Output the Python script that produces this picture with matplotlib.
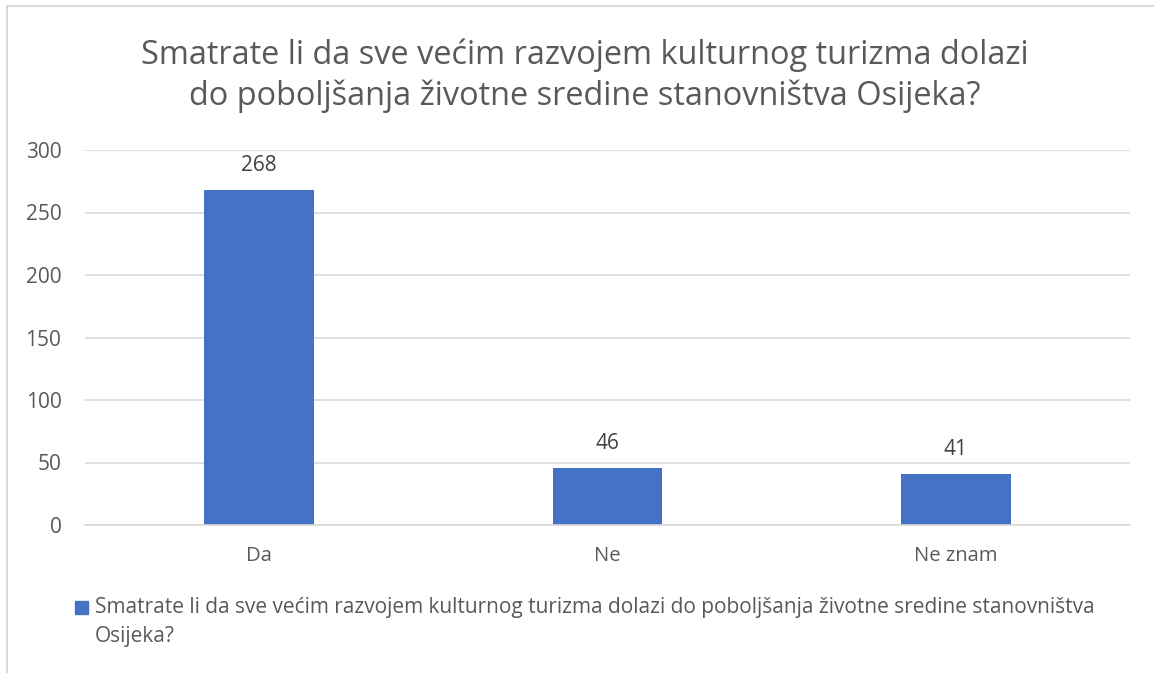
import matplotlib

matplotlib.use("Agg")

import matplotlib.pyplot as plt
from matplotlib.patches import Rectangle

CATEGORIES = ["Da", "Ne", "Ne znam"]
VALUES = [268, 46, 41]
Y_TICKS = [0, 50, 100, 150, 200, 250, 300]
TITLE = "Smatrate li da sve većim razvojem kulturnog turizma dolazi\ndo poboljšanja životne sredine stanovništva Osijeka?"
SERIES = "Smatrate li da sve većim razvojem kulturnog turizma dolazi do poboljšanja životne sredine stanovništva\nOsijeka?"

BAR = "#4472c4"
GRID = "#d9d9d9"
TEXT = "#595959"
W, H = 1154, 673

plt.rcParams["font.family"] = ["Open Sans", "DejaVu Sans"]

fig = plt.figure(figsize=(W / 100, H / 100), dpi=100)
ax = fig.add_axes([85 / W, 1 - 525 / H, (1130 - 85) / W, (525 - 150) / H])

x = range(len(CATEGORIES))
bars = ax.bar(x, VALUES, width=0.315, color=BAR, zorder=2)
for rect, value in zip(bars, VALUES):
    ax.annotate(str(value), (rect.get_x() + rect.get_width() / 2, value),
                xytext=(0, 10), textcoords="offset points", ha="center",
                va="bottom", fontsize=15, color="#404040")

ax.set_xlim(-0.5, len(CATEGORIES) - 0.5)
ax.set_ylim(0, 300)
ax.set_yticks(Y_TICKS)
ax.set_xticks(list(x), CATEGORIES)
ax.tick_params(length=0, labelcolor=TEXT)
ax.tick_params(axis="x", pad=15, labelsize=14.6)
ax.tick_params(axis="y", pad=17, labelsize=15)
ax.grid(axis="y", color=GRID, linewidth=1.2, zorder=0)
for side in ("top", "right", "left"):
    ax.spines[side].set_visible(False)
ax.spines["bottom"].set_color(GRID)
ax.spines["bottom"].set_linewidth(1.2)

fig.text(585 / W, 1 - 76 / H, TITLE, ha="center", va="center", fontsize=23.4,
         color=TEXT, linespacing=1.3)

# legend: square marker plus wrapped label
fig.patches.append(Rectangle((75 / W, 1 - 614 / H), 13 / W, 13 / H,
                             transform=fig.transFigure, color=BAR))
fig.text(95 / W, 1 - 597 / H, SERIES, ha="left", va="top", fontsize=15,
         color=TEXT, linespacing=1.5)

# chart border
fig.patches.append(Rectangle((7 / W, -0.05), 1.1, 1 - 6 / H + 0.05,
                             transform=fig.transFigure, fill=False,
                             edgecolor=GRID, linewidth=1.5))

fig.savefig("out.png", dpi=100)
